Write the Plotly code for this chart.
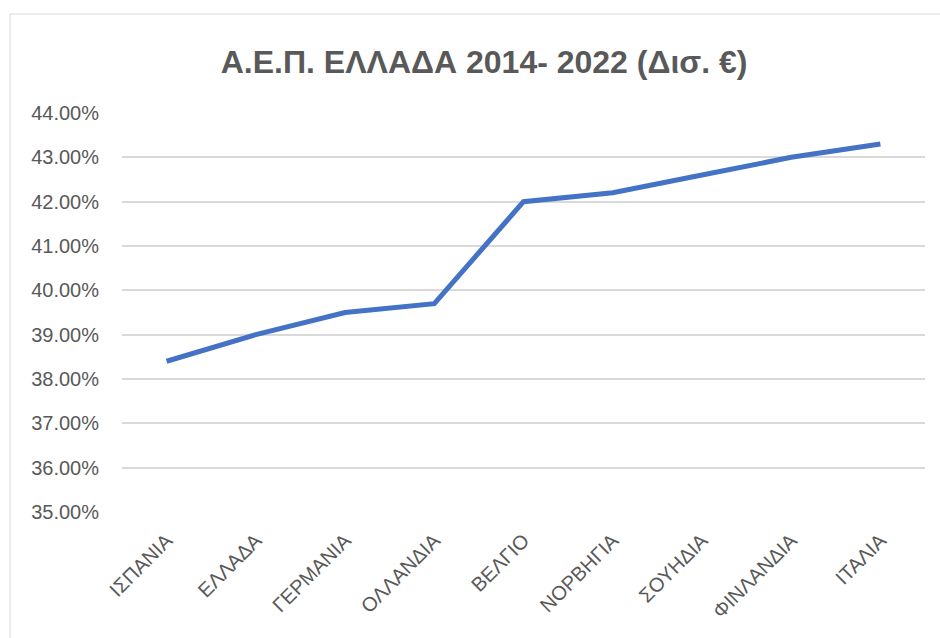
import plotly.graph_objects as go

categories = ["ΙΣΠΑΝΙΑ", "ΕΛΛΑΔΑ", "ΓΕΡΜΑΝΙΑ", "ΟΛΛΑΝΔΙΑ", "ΒΕΛΓΙΟ",
              "ΝΟΡΒΗΓΙΑ", "ΣΟΥΗΔΙΑ", "ΦΙΝΛΑΝΔΙΑ", "ΙΤΑΛΙΑ"]
values = [38.4, 39.0, 39.5, 39.7, 42.0, 42.2, 42.6, 43.0, 43.3]
y_ticks = [35, 36, 37, 38, 39, 40, 41, 42, 43, 44]
y_tick_labels = [f"{v:.2f}%" for v in y_ticks]
title_text = "Α.Ε.Π. ΕΛΛΑΔΑ 2014- 2022 (Δισ. €)"

W, H = 940, 638
L, R, T, B = 122, 15, 113, 126
pw, ph = W - L - R, H - T - B

fig = go.Figure()
fig.add_trace(go.Scatter(
    x=categories, y=values, mode="lines",
    line=dict(color="#4472C4", width=5, shape="linear"),
    showlegend=False,
))

def px_x(p):
    return (p - L) / pw

def px_y(p):
    return (H - B - p) / ph

fig.add_shape(type="rect", xref="paper", yref="paper",
              x0=px_x(10), x1=px_x(990), y0=px_y(700), y1=px_y(14),
              line=dict(color="#D9D9D9", width=1), fillcolor="rgba(0,0,0,0)",
              layer="below")

fig.update_layout(
    width=W, height=H,
    margin=dict(l=L, r=R, t=T, b=B),
    paper_bgcolor="white", plot_bgcolor="white",
    font=dict(family="Liberation Sans, Arial, sans-serif", color="#595959", size=18),
    title=dict(text="<b>" + title_text + "</b>", x=0.515, xanchor="center",
               y=1 - 62 / H, yanchor="middle", yref="container",
               font=dict(size=32, color="#595959", family="Liberation Sans, Arial, sans-serif")),
    xaxis=dict(type="category", range=[-0.5, len(categories) - 0.5],
               tickangle=-45, showgrid=False, showline=False, zeroline=False,
               ticks="outside", ticklen=8, tickcolor="rgba(0,0,0,0)",
               tickfont=dict(size=20, color="#595959")),
    yaxis=dict(range=[35, 44], tickvals=y_ticks, ticktext=y_tick_labels,
               showgrid=True, gridcolor="#D9D9D9", gridwidth=1.5,
               zeroline=False, showline=False,
               ticks="outside", ticklen=18, tickcolor="rgba(0,0,0,0)",
               tickfont=dict(size=20, color="#595959")),
)

fig.write_html("out.html", config={"displayModeBar": False},
               post_script="document.body.style.margin='0';document.body.style.padding='0';")
